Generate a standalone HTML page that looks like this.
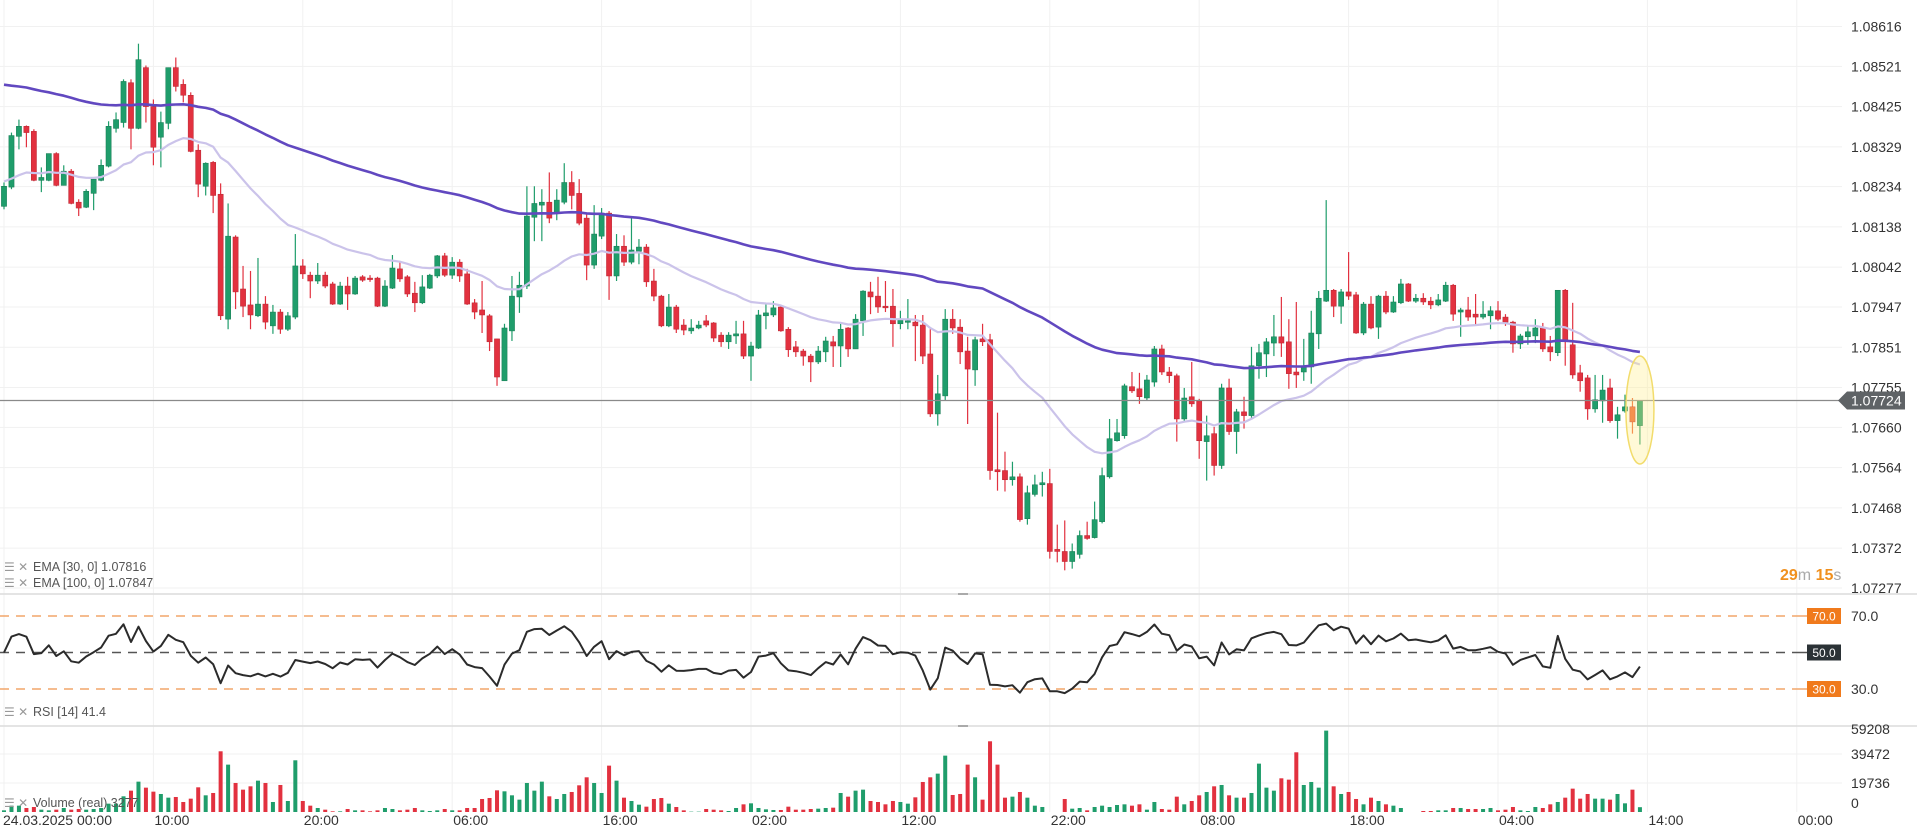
<!DOCTYPE html>
<html><head><meta charset="utf-8"><style>
html,body{margin:0;padding:0;background:#fff;width:1917px;height:833px;overflow:hidden}
svg{display:block;font-family:"Liberation Sans",sans-serif}
</style></head><body>
<svg id="chart" width="1917" height="833" viewBox="0 0 1917 833" xmlns="http://www.w3.org/2000/svg">
<g id="grid"></g>
<g id="vol"></g>
<g id="candles"></g>
<g id="emas"></g>
<g id="rsi"></g>
<g id="axes"></g>
<g id="legend">
  <g><text x="4" y="571" font-size="12" fill="#999">☰ ✕</text><text x="33" y="571" font-size="12.5" fill="#555">EMA  [30,  0]  1.07816</text></g>
  <g><text x="4" y="587" font-size="12" fill="#999">☰ ✕</text><text x="33" y="587" font-size="12.5" fill="#555">EMA  [100,  0]  1.07847</text></g>
  <g><text x="4" y="716" font-size="12" fill="#999">☰ ✕</text><text x="33" y="716" font-size="12.5" fill="#555">RSI  [14]  41.4</text></g>
  <g><text x="4" y="807" font-size="12" fill="#999">☰ ✕</text><text x="33" y="807" font-size="12.5" fill="#555">Volume  (real)  3277</text></g>
  <text x="1780" y="580" font-size="16" font-weight="bold" fill="#f0901e">29<tspan font-weight="normal" fill="#aaa">m</tspan> 15<tspan font-weight="normal" fill="#aaa">s</tspan></text>
</g>
</svg>
<script>
const NS="http://www.w3.org/2000/svg";
// ---- data (price in 1e-5 units) ----
const ohlc=[[108187,108244,108180,108235],[108233,108363,108228,108356],[108354,108394,108323,108378],[108378,108380,108328,108363],[108366,108371,108247,108249],[108249,108280,108221,108256],[108249,108313,108247,108313],[108313,108316,108235,108237],[108237,108285,108237,108271],[108271,108276,108192,108194],
[108197,108204,108164,108183],[108185,108228,108183,108223],[108218,108252,108178,108252],[108249,108299,108247,108285],[108283,108390,108280,108378],[108373,108411,108363,108394],[108387,108490,108375,108485],[108482,108490,108323,108373],[108373,108575,108371,108537],[108518,108523,108387,108425],
[108425,108442,108285,108328],[108352,108413,108280,108387],[108385,108518,108371,108518],[108518,108542,108461,108473],[108478,108490,108435,108452],[108452,108459,108316,108318],[108321,108335,108209,108240],[108235,108292,108213,108290],[108292,108295,108171,108213],[108216,108242,107916,107926],
[107918,108194,107894,108116],[108114,108118,107942,107983],[107990,108045,107923,107949],[107952,108033,107894,107928],[107926,108064,107923,107954],[107954,107973,107894,107911],[107902,107952,107883,107935],[107935,107942,107883,107894],[107894,107935,107890,107926],[107923,108121,107918,108045],
[108045,108061,108014,108026],[108023,108031,107968,108009],[108009,108052,108002,108023],[108023,108031,107992,107997],[108002,108007,107952,107954],[107954,108007,107952,107997],[107997,108019,107940,107978],[107978,108021,107976,108016],[108019,108023,108007,108011],[108016,108023,108007,108014],
[108016,108019,107947,107949],[107949,108011,107947,107997],[107992,108071,107990,108040],[108038,108054,108007,108014],[108019,108023,107971,107978],[107980,108007,107935,107957],[107957,108023,107954,107995],[107992,108026,107990,108023],[108021,108071,108016,108069],[108069,108076,108019,108023],
[108023,108066,108014,108054],[108054,108061,108007,108021],[108026,108038,107952,107954],[107957,107966,107918,107935],[107940,108009,107885,107928],[107926,107930,107842,107864],[107871,107871,107759,107780],[107771,107907,107771,107897],[107890,108021,107866,107973],[107971,108031,107933,107999],
[107997,108235,107990,108164],[108161,108235,108104,108194],[108190,108228,108104,108197],[108197,108268,108147,108159],[108173,108228,108154,108202],[108197,108290,108192,108244],[108244,108271,108180,108213],[108218,108252,108142,108147],[108159,108168,108011,108047],[108047,108190,108038,108121],
[108116,108183,108109,108171],[108171,108176,107964,108021],[108021,108121,108009,108092],[108092,108118,108045,108054],[108054,108164,108049,108083],[108080,108109,108049,108090],[108090,108097,107995,108007],[108009,108038,107961,107973],[107973,107976,107899,107902],[107902,107978,107899,107947],
[107947,107952,107885,107894],[107904,107918,107880,107892],[107890,107918,107883,107897],[107897,107914,107894,107904],[107914,107928,107899,107904],[107909,107911,107864,107873],[107880,107887,107852,107864],[107864,107887,107847,107880],[107878,107914,107859,107883],[107883,107914,107823,107830],
[107830,107864,107771,107854],[107849,107940,107847,107928],[107926,107954,107894,107933],[107928,107961,107923,107945],[107947,107949,107888,107890],[107894,107899,107828,107845],[107852,107866,107828,107840],[107842,107847,107807,107830],[107830,107835,107768,107816],[107816,107854,107811,107842],
[107840,107876,107816,107866],[107864,107878,107804,107854],[107854,107907,107804,107894],[107897,107899,107828,107847],[107847,107930,107847,107918],[107914,107987,107878,107985],[107983,108007,107930,107971],[107973,108019,107933,107947],[107949,108009,107935,107945],[107949,107990,107852,107907],
[107907,107938,107894,107916],[107914,107966,107894,107914],[107911,107928,107818,107902],[107904,107928,107811,107830],[107835,107894,107685,107692],[107692,107785,107664,107740],[107735,107942,107723,107918],[107918,107942,107883,107897],[107899,107918,107811,107840],[107842,107876,107668,107799],
[107797,107876,107759,107869],[107871,107907,107854,107864],[107869,107883,107535,107557],[107559,107695,107509,107554],[107557,107602,107507,107535],[107535,107578,107521,107542],[107542,107550,107435,107440],[107442,107521,107428,107504],[107500,107547,107495,107523],[107523,107554,107495,107528],
[107526,107561,107347,107364],[107369,107428,107338,107364],[107364,107438,107319,107340],[107340,107383,107323,107364],[107357,107414,107347,107402],[107402,107435,107392,107395],[107397,107483,107395,107440],[107435,107564,107431,107545],[107542,107680,107538,107633],[107628,107680,107626,107647],
[107640,107764,107633,107759],[107757,107792,107742,107747],[107752,107790,107716,107733],[107730,107785,107723,107773],[107768,107854,107757,107847],[107847,107857,107785,107792],[107792,107804,107766,107783],[107783,107788,107626,107680],[107680,107754,107673,107730],[107733,107816,107709,107716],
[107723,107728,107585,107628],[107626,107688,107533,107640],[107645,107661,107545,107569],[107569,107764,107561,107754],[107754,107776,107642,107650],[107650,107704,107597,107697],[107697,107733,107657,107688],[107688,107852,107680,107807],[107807,107859,107776,107838],[107835,107873,107780,107864],
[107861,107928,107830,107876],[107876,107971,107828,107861],[107864,107918,107752,107788],[107792,107959,107754,107785],[107792,107871,107771,107807],[107804,107938,107764,107885],[107883,107985,107847,107968],[107961,108202,107959,107987],[107987,107990,107923,107949],[107949,107990,107907,107983],
[107983,108078,107964,107973],[107976,107983,107883,107885],[107885,107959,107880,107954],[107954,107973,107894,107897],[107899,107976,107871,107973],[107973,107985,107930,107935],[107935,107973,107933,107959],[107957,108014,107954,108002],[108002,108004,107959,107961],[107961,107978,107957,107968],
[107968,107980,107952,107959],[107961,107971,107942,107952],[107952,107978,107949,107964],[107961,108007,107959,107999],[107999,108002,107914,107930],[107935,107945,107876,107940],[107940,107971,107914,107923],[107930,107978,107902,107923],[107923,107961,107918,107930],[107926,107949,107894,107938],
[107938,107961,107914,107918],[107923,107930,107902,107911],[107911,107914,107838,107859],[107859,107883,107847,107878],[107876,107902,107857,107888],[107878,107918,107861,107897],[107897,107909,107840,107847],[107852,107878,107818,107840],[107838,107987,107830,107987],[107987,107990,107807,107864],
[107857,107957,107776,107785],[107790,107809,107745,107771],[107778,107785,107678,107704],[107704,107785,107695,107726],[107723,107785,107671,107749],[107754,107776,107671,107676],[107676,107709,107633,107690],[107699,107738,107695,107709],[107709,107730,107645,107673],[107664,107723,107619,107724]];
const volumes=[1135,4313,4313,2724,3405,1589,1135,1589,2724,1589,2043,1589,2043,2724,5675,5675,10669,14528,20657,16571,
13847,12258,9761,10215,6810,9080,16798,11350,12939,41314,32234,19749,15209,17479,21338,19749,6810,18387,7491,35185,
7491,4313,2724,1589,454,454,2043,1135,1135,454,1135,2724,2043,1135,1589,2724,1135,681,1135,2043,
1135,1135,2724,2724,8853,9534,14755,14074,11350,8399,19749,14528,20657,10669,8853,12258,13620,18160,23608,19749,
12939,31553,21338,9761,7491,4994,3632,8853,9534,5675,3405,1135,227,227,2043,1589,1135,681,2724,5221,
5902,2724,1816,1362,1362,3632,1589,1589,2043,2270,2724,2951,12939,10442,14528,15209,7491,6810,5221,7491,
6810,5675,9988,20430,23608,26105,38363,11577,12258,32234,23608,8399,48124,32234,9761,10442,13620,9761,4313,3405,
0,0,8853,2270,2724,1135,3405,4313,3405,4767,5221,4313,5221,1589,6810,2043,1589,10442,5221,7491,
11350,13620,17479,18387,11350,9761,9761,12939,32915,16571,14528,22927,22019,40633,18387,20430,16571,55388,17479,12258,
13620,8853,5221,9761,7491,5221,4313,2724,0,0,681,681,1135,1135,2724,2724,2043,2043,2043,2724,
1135,1589,3405,1135,681,3405,2724,5221,6810,9761,15890,9080,12258,9080,9080,8399,12258,5902,15209,3277];
const priceTicks=["1.08616","1.08521","1.08425","1.08329","1.08234","1.08138","1.08042","1.07947","1.07851","1.07755","1.07660","1.07564","1.07468","1.07372","1.07277"];
const volTicks=[59208,39472,19736,0];
const timeLabels=["24.03.2025  00:00","10:00","20:00","06:00","16:00","02:00","12:00","22:00","08:00","18:00","04:00","14:00","00:00"];
const ema30Seed=108247, ema100Seed=108482;
const rsiSeedGain=22, rsiSeedLoss=22;
const lastPrice="1.07724";
// ---- scales ----
const X=i=>4+7.47*i;
const PY=v=>26.5+(108616-v)*0.4193;
const VY=v=>812-v*(29/19736);
const RY=r=>652.5+(50-r)*1.825;
const GREEN="#1f9d6b", RED="#e2313f";
function el(tag,attrs,parent){const e=document.createElementNS(NS,tag);for(const k in attrs)e.setAttribute(k,attrs[k]);parent.appendChild(e);return e;}
const grid=document.getElementById('grid'),axes=document.getElementById('axes');
// horizontal price grid + labels
priceTicks.forEach((t,k)=>{const y=PY(parseFloat(t)*1e5);
  const l=el('line',{x1:0,x2:1842,y1:y,y2:y,stroke:'#f1f1f1','stroke-width':1},grid);
  
  const tx=el('text',{x:1851,y:y+5,'font-size':14,fill:'#333'},axes);tx.textContent=t;
  });
// vertical grid + time labels
timeLabels.forEach((t,k)=>{const x=X(20*k);
  const l=el('line',{x1:x,x2:x,y1:0,y2:812,stroke:'#f1f1f1','stroke-width':1},grid);
  
  const tx=el('text',{x:k==0?3:x+1,y:825,'font-size':14,fill:'#333','xml:space':'preserve'},axes);tx.textContent=t;
  });
// volume grid + labels
volTicks.forEach(v=>{const y=VY(v);
  if(v>0&&v<59000){const l=el('line',{x1:0,x2:1842,y1:y,y2:y,stroke:'#f1f1f1'},grid);}
  const tx=el('text',{x:1851,y:v==0?808:y+(v==59208?9:5),'font-size':14,fill:'#333'},axes);tx.textContent=v;
  });
// panel separators
[[594,'main-rsi-separator'],[726,'rsi-volume-separator']].forEach(([y,n])=>{
  const l=el('line',{x1:0,x2:1917,y1:y,y2:y,stroke:'#dcdcdc','stroke-width':1.5},grid);
  
  const h=el('line',{x1:958,x2:968,y1:y,y2:y,stroke:'#aaa','stroke-width':2},grid);
  });
// volume bars
const vg=document.getElementById('vol');
volumes.forEach((v,i)=>{if(v<=0)return;const c=ohlc[i];const up=c[3]>=c[0];
  const r=el('rect',{x:X(i)-2,y:VY(v),width:4,height:812-VY(v),fill:up?GREEN:RED},vg);
  });
// candles
const cg=document.getElementById('candles');
ohlc.forEach((c,i)=>{const [o,h,l,cl]=c;const up=cl>=o;const col=(i==218)?"#f0602e":(up?GREEN:RED);const x=X(i);
  const w=el('line',{x1:x,x2:x,y1:PY(h),y2:PY(l),stroke:col,'stroke-width':1.2},cg);
  
  const top=Math.min(PY(o),PY(cl)),bh=Math.max(1.5,Math.abs(PY(o)-PY(cl)));
  const b=el('rect',{x:x-2.6,y:top,width:5.2,height:bh,fill:col,stroke:up?'#167a52':'#b82531','stroke-width':0.5},cg);
  });
// EMAs
const closes=ohlc.map(c=>c[3]);
function ema(seed,n){const a=2/(n+1);let e=seed;return closes.map(c=>{e=e+a*(c-e);return e;});}
const eg=document.getElementById('emas');
[[ema(ema30Seed,30),'#cbc3ea',2.2,'ema30-line'],[ema(ema100Seed,100),'#6148c0',2.6,'ema100-line']].forEach(([arr,col,w,n])=>{
  const p=el('path',{d:arr.map((v,i)=>(i?'L':'M')+X(i).toFixed(1)+' '+PY(v).toFixed(1)).join(''),fill:'none',stroke:col,'stroke-width':w,'stroke-linejoin':'round'},eg);
  });
// current price line + tag
const cy=PY(parseFloat(lastPrice)*1e5);
const cpl=el('line',{x1:0,x2:1842,y1:cy,y2:cy,stroke:'#8a8a8a','stroke-width':1.2},axes);

const tag=el('polygon',{points:`1838,${cy} 1847,${cy-9} 1905,${cy-9} 1905,${cy+9} 1847,${cy+9}`,fill:'#5f6366'},axes);

const tt=el('text',{x:1851,y:cy+5,'font-size':14,fill:'#fff'},axes);tt.textContent=lastPrice;

// highlight ellipse
const ell=el('ellipse',{cx:X(219),cy:410,rx:14,ry:54,fill:'rgba(255,238,140,0.35)',stroke:'#f2dc6c','stroke-width':1.5},axes);

// RSI
const rg=document.getElementById('rsi');
let ag=rsiSeedGain,al=rsiSeedLoss;const rsi=closes.map((c,i)=>{if(i>0){const d=c-closes[i-1];ag=(ag*13+Math.max(d,0))/14;al=(al*13+Math.max(-d,0))/14;}return 100-100/(1+ag/al);});
[[70,'#f2a66a','rsi-70-line'],[50,'#555','rsi-50-line'],[30,'#f2a66a','rsi-30-line']].forEach(([v,col,n])=>{
  const l=el('line',{x1:0,x2:1800,y1:RY(v),y2:RY(v),stroke:col,'stroke-width':1.5,'stroke-dasharray':'9 7'},rg);
  
  const s=el('line',{x1:1800,x2:1807,y1:RY(v),y2:RY(v),stroke:col,'stroke-width':1.5},rg);
  
  const bx=el('rect',{x:1807,y:RY(v)-8,width:34,height:16,fill:v==50?'#2b3236':'#f07a1c'},rg);
  
  const t=el('text',{x:1824,y:RY(v)+4.5,'font-size':12,fill:'#fff','text-anchor':'middle'},rg);t.textContent=v.toFixed(1);
  
  if(v!=50){const a=el('text',{x:1851,y:RY(v)+5,'font-size':14,fill:'#333'},rg);a.textContent=v.toFixed(1);
  }});
const rp=el('path',{d:rsi.map((v,i)=>(i?'L':'M')+X(i).toFixed(1)+' '+RY(v).toFixed(1)).join(''),fill:'none',stroke:'#2b2b2b','stroke-width':2,'stroke-linejoin':'round'},rg);

</script>
</body></html>
